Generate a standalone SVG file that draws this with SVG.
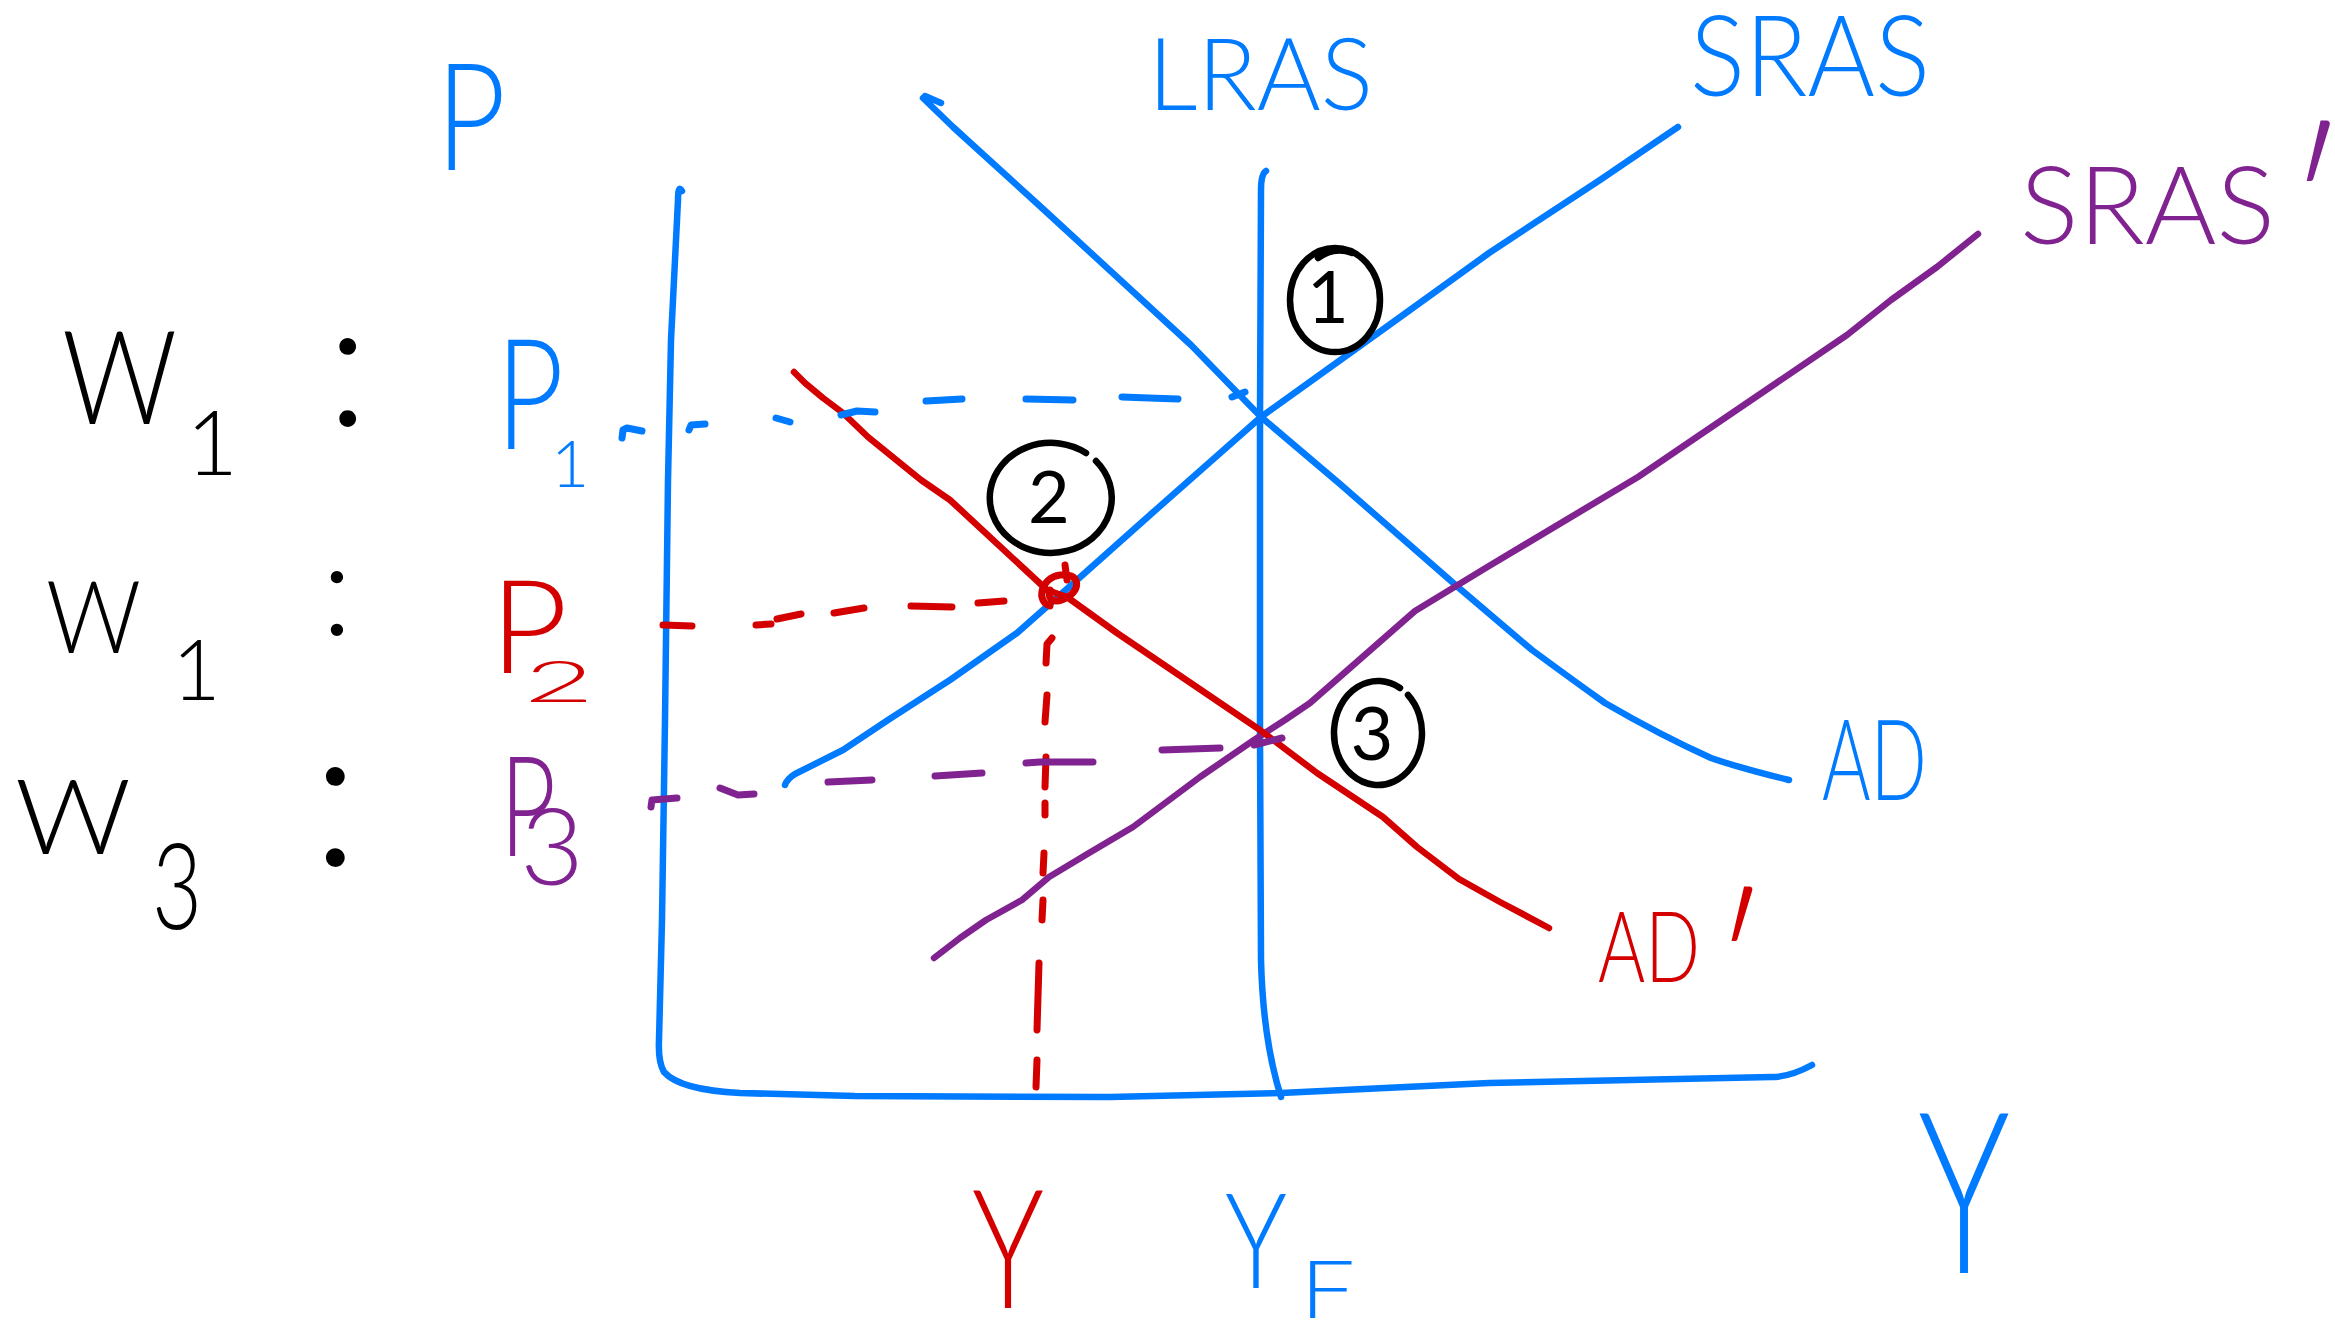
<svg xmlns="http://www.w3.org/2000/svg" width="2335" height="1332" viewBox="0 0 2335 1332">
<style>
.ln{fill:none;stroke-width:6.5;stroke-linecap:round;stroke-linejoin:round}
.ds{fill:none;stroke-width:7;stroke-linecap:round;stroke-linejoin:round}
.b{stroke:#007AFF}.r{stroke:#D40000}.p{stroke:#80228F}.k{stroke:#000}
text{font-family:Lato,"Liberation Sans","DejaVu Sans",sans-serif;font-weight:300}
.rg{font-weight:400}
.tb{fill:#007AFF}.tr{fill:#D40000}.tp{fill:#80228F}.tk{fill:#000}
</style>
<rect width="2335" height="1332" fill="#fff"/>

<g id="axes">
<path class="ln b" d="M682,191 Q678,184 678,200 L671,340 L668,480 L665,720 L662,920 L659,1040 Q658,1062 664,1072 Q680,1090 740,1093 L855,1096 L1110,1097 L1281,1093 L1489,1083 L1772,1077 Q1790,1077 1812,1065"/>
</g>

<g id="curves">
<path id="LRAS-line" class="ln b" d="M1266,171 Q1261,174 1261,190 L1260,417 L1260,737 L1261,960 Q1263,1040 1281,1097"/>
<path id="SRAS-line" class="ln b" d="M785,785 Q787,779 795,774 L843,750 L888,720 L950,680 L1017,633 L1077,580 L1150,515 L1261,417 L1385,328 L1489,253 L1600,180 L1650,146 L1678,127"/>
<path id="AD-line" class="ln b" d="M941,103 L925,96 M923,98 L953,127 L1042,208 L1191,345 L1261,417 L1340,484 L1459,588 L1532,650 Q1570,678 1605,703 Q1660,735 1711,758 Q1740,768 1789,780"/>
<path id="SRASp-line" class="ln p" d="M934,958 L960,938 L986,920 L1022,900 L1049,877 L1089,853 L1133,827 L1200,777 L1254,740 L1285,720 L1310,703 L1415,611 L1489,566 L1638,477 L1847,335 L1891,300 L1937,267 L1978,234"/>
<path id="ADp-line" class="ln r" d="M794,372 L805,383 L823,398 L843,413 L868,437 L921,480 L950,500 L1047,590 L1067,597 L1117,633 L1260,730 L1317,773 L1383,817 L1417,847 L1459,879 L1500,902 L1549,928"/>
<path id="point2-mark" class="ds r" d="M1050,606 C1036,602 1040,578 1060,575 C1080,572 1082,590 1066,598 C1056,604 1046,600 1050,590 M1065,565 L1067,580"/>
</g>

<g id="dashes">
<g id="P1-dash" class="ds b">
<path d="M622,438 L623,430 L627,428 L642,431"/>
<path d="M689,430 L691,425 L705,424"/>
<path d="M776,418 L790,422"/>
<path d="M841,415 L857,411 L875,412"/>
<path d="M926,401 L962,399"/>
<path d="M1026,399 L1073,400"/>
<path d="M1122,397 L1149,398 L1178,399"/>
<path d="M1232,397 L1245,392"/>
</g>
<g id="P2-dash" class="ds r">
<path d="M663,625 L692,626"/>
<path d="M756,625 L771,624"/>
<path d="M777,619 L801,614"/>
<path d="M834,613 L864,608"/>
<path d="M911,606 L952,607"/>
<path d="M978,603 L1004,601"/>
</g>
<g id="Y-dash" class="ds r">
<path d="M1052,638 L1047,644 L1046,663"/>
<path d="M1047,695 L1045,722"/>
<path d="M1046,757 L1045,787"/>
<path d="M1045,803 L1045,815"/>
<path d="M1044,853 L1043,873"/>
<path d="M1043,900 L1042,920"/>
<path d="M1039,963 L1037,1030"/>
<path d="M1037,1060 L1036,1087"/>
</g>
<g id="P3-dash" class="ds p">
<path d="M651,807 L652,800 L677,798"/>
<path d="M720,788 L738,795 L754,794"/>
<path d="M828,782 L872,780"/>
<path d="M935,776 L982,773"/>
<path d="M1026,763 L1040,762 L1093,762"/>
<path d="M1162,750 L1220,748"/>
<path d="M1254,745 L1282,738"/>
</g>
</g>

<g id="circle-1">
<ellipse class="ln k" cx="1335" cy="300" rx="45" ry="52"/>
<path class="ln k" d="M1318,258 Q1335,246 1352,253"/>
<text class="tk rg" x="1328" y="323" font-size="72" text-anchor="middle">1</text>
</g>
<g id="circle-2">
<path class="ln k" d="M1096,461 A61,55 0 1 1 1086,453"/>
<text class="tk rg" x="1049" y="523" font-size="72" text-anchor="middle">2</text>
</g>
<g id="circle-3">
<path class="ln k" d="M1408,695 A44,52 0 1 1 1400,688"/>
<text class="tk rg" x="1372" y="760" font-size="74" text-anchor="middle">3</text>
</g>

<g id="axis-labels">
<text class="tb" x="436" y="170" font-size="150" textLength="70" lengthAdjust="spacingAndGlyphs">P</text>
<text class="tb" x="1918" y="1273" font-size="225" textLength="92" lengthAdjust="spacingAndGlyphs">Y</text>
</g>

<g id="curve-labels">
<text class="tb" x="1148" y="110" font-size="100" textLength="225" lengthAdjust="spacingAndGlyphs">LRAS</text>
<text class="tb" x="1690" y="96" font-size="112" textLength="240" lengthAdjust="spacingAndGlyphs">SRAS</text>
<text class="tp" x="2020" y="244" font-size="108"><tspan textLength="255" lengthAdjust="spacingAndGlyphs">SRAS</tspan><tspan x="2285" y="282" font-size="200">′</tspan></text>
<text class="tb" x="1822" y="800" font-size="112" textLength="105" lengthAdjust="spacingAndGlyphs">AD</text>
<text class="tr" x="1598" y="982" font-size="98"><tspan textLength="102" lengthAdjust="spacingAndGlyphs">AD</tspan><tspan x="1712" y="1032" font-size="180">′</tspan></text>
</g>

<g id="output-labels">
<text class="tr" x="972" y="1308" font-size="165" textLength="72" lengthAdjust="spacingAndGlyphs">Y</text>
<text class="tb" x="1225" y="1288" font-size="132"><tspan textLength="62" lengthAdjust="spacingAndGlyphs">Y</tspan><tspan x="1300" y="1318" font-size="80" textLength="55" lengthAdjust="spacingAndGlyphs">F</tspan></text>
</g>

<g id="row-1">
<text class="tk" x="62" y="424" font-size="130"><tspan textLength="115" lengthAdjust="spacingAndGlyphs">W</tspan><tspan x="186" y="475" font-size="90">1</tspan></text>
<text class="tk" x="326" y="426" font-size="181">:</text>
<text class="tb" x="496" y="449" font-size="154"><tspan textLength="68" lengthAdjust="spacingAndGlyphs">P</tspan><tspan x="551" y="487" font-size="66">1</tspan></text>
</g>
<g id="row-2">
<text class="tk" x="46" y="653" font-size="100"><tspan textLength="95" lengthAdjust="spacingAndGlyphs">W</tspan><tspan x="172" y="700" font-size="84">1</tspan></text>
<text class="tk" x="321" y="635" font-size="133">:</text>
<text class="tr" x="490" y="673" font-size="130"><tspan textLength="78" lengthAdjust="spacingAndGlyphs">P</tspan><tspan x="524" y="702" font-size="58" textLength="70" lengthAdjust="spacingAndGlyphs">2</tspan></text>
</g>
<g id="row-3">
<text class="tk" x="15" y="854" font-size="105"><tspan textLength="116" lengthAdjust="spacingAndGlyphs">W</tspan><tspan x="152" y="929" font-size="120" textLength="50" lengthAdjust="spacingAndGlyphs">3</tspan></text>
<text class="tk" x="311" y="865" font-size="203">:</text>
<text class="tp" x="500" y="856" font-size="140"><tspan textLength="56" lengthAdjust="spacingAndGlyphs">P</tspan><tspan x="520" y="885" font-size="106" textLength="64" lengthAdjust="spacingAndGlyphs">3</tspan></text>
</g>
</svg>
